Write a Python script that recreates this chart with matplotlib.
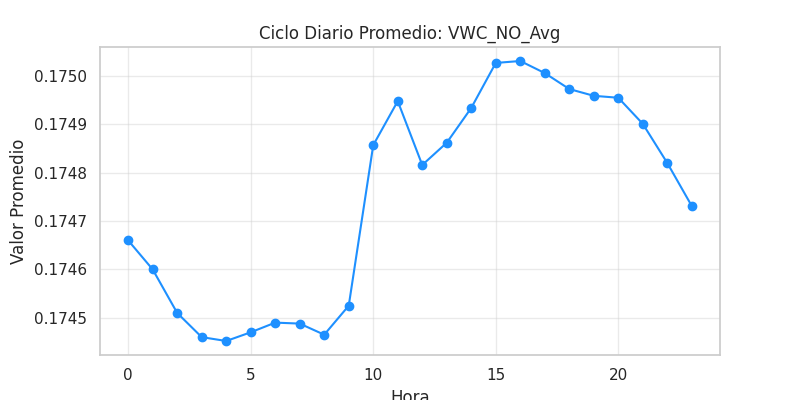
import matplotlib
matplotlib.use("Agg")
import matplotlib.pyplot as plt
import seaborn as sns
from matplotlib.ticker import FormatStrFormatter

hours = list(range(24))
values = [0.17466, 0.17460, 0.17451, 0.17446, 0.174452, 0.17447, 0.17449, 0.174488,
          0.174465, 0.174525, 0.174857, 0.174948, 0.174816, 0.174862, 0.174934, 0.175027,
          0.175031, 0.175006, 0.174973, 0.174959, 0.174955, 0.174901, 0.17482, 0.174731]

sns.set_theme(style="whitegrid")
fig = plt.figure(figsize=(8, 4), dpi=100)
ax = fig.add_axes([0.125, 0.1125, 0.775, 0.77])
ax.plot(hours, values, marker="o", color="#1e90ff", linewidth=1.5, markersize=6)
ax.set_title("Ciclo Diario Promedio: VWC_NO_Avg", fontsize=12)
ax.set_xlabel("Hora", fontsize=12)
ax.set_ylabel("Valor Promedio", fontsize=12)
ax.yaxis.set_major_formatter(FormatStrFormatter("%.4f"))
ax.grid(True, alpha=0.4)
fig.savefig("out.png")
